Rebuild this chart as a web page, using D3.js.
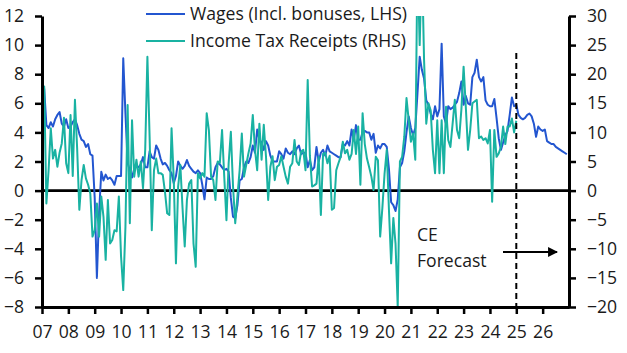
<!DOCTYPE html>
<html>
<head>
<meta charset="utf-8">
<script src="https://cdn.jsdelivr.net/npm/d3@7"></script>
<style>
  body { margin: 0; background: #fff; }
  text { font-family: "Open Sans", sans-serif; fill: #1a1a1a; }
</style>
</head>
<body>
<div id="chart"></div>
<script>
// monthly, Jan 2007 onwards (LHS, % y/y)
const startYear = 2007;
const wages = [
  5.7, 7.0, 4.5, 4.3, 4.7, 4.4, 4.9, 5.2, 5.4, 4.6, 4.4, 4.9,
  4.3, 4.4, 4.7, 4.9, 4.5, 3.9, 3.5, 3.4, 3.0, 3.2, 2.5, 2.4,
  -0.5, -6.0, -1.5, 1.3, 0.7, 1.1, 0.8, 0.9, 0.7, 0.4, 1.0, 1.0,
  1.0, 9.1, 5.3, 1.9, 1.4, 0.9, 1.5, 1.7, 1.6, 1.8, 2.3, 1.6,
  1.6, 2.7, 2.3, 2.2, 3.1, 2.8, 2.2, 1.8, 1.9, 1.7, 1.4, 1.2,
  0.5, 1.0, 2.0, 1.7, 1.5, 1.7, 2.1, 1.7, 1.5, 1.3, 1.2, 1.4,
  1.2, 0.4, -0.6, 0.9, 0.8, 0.8, 1.0, 1.6, 1.9, 1.8, 1.6, 1.4,
  1.5, 1.3, -0.5, -1.8, -1.9, -1.0, 0.7, 0.8, 1.6, 2.0, 1.9, 2.3,
  3.1, 2.6, 4.2, 3.5, 3.3, 2.8, 3.4, 3.1, 2.4, 2.0, 2.0, 2.0,
  2.7, 2.5, 2.2, 2.9, 2.6, 2.5, 2.7, 2.5, 2.9, 3.1, 2.5, 2.6,
  2.6, 1.6, 2.1, 1.4, 1.6, 3.0, 2.0, 2.6, 2.8, 2.4, 3.1, 2.7,
  2.6, 2.5, 2.4, 2.3, 2.3, 3.2, 3.1, 3.4, 3.1, 4.2, 3.5, 4.5,
  3.5, 3.5, 4.0, 4.1, 4.0, 4.0, 3.5, 3.9, 2.6, 3.1, 2.9, 3.2,
  3.2, 3.0, 1.5, -0.8, -1.0, -1.4, -0.6, 1.6, 1.9, 2.7, 4.0, 5.1,
  4.3, 3.8, 4.3, 6.7, 9.2, 8.3, 7.7, 6.2, 5.9, 5.3, 4.9, 5.8,
  5.1, 5.6, 10.1, 5.1, 4.6, 5.8, 5.6, 5.7, 5.9, 6.1, 6.7, 7.5,
  5.9, 6.5, 6.0, 5.9, 7.8, 8.1, 9.0, 7.8, 7.5, 7.8, 6.2, 5.9,
  5.8, 5.8, 6.3, 5.0, 3.6, 2.8, 3.3, 3.8, 4.1, 5.2, 6.4, 5.8,
  5.9, 5.2, 5.0, 4.9, 5.0, 5.2, 5.3, 5.1, 4.6, 3.7, 4.4, 4.2,
  4.1, 4.2, 3.4, 3.3, 3.2, 3.2, 3.0, 2.9, 2.8, 2.7, 2.6, 2.5
];
// monthly, Jan 2007 onwards (RHS, % y/y)
const taxReceipts = [
  11.0, 17.9, -2.2, 3.5, 10.7, 5.5, 7.0, 4.1, 6.5, 8.1, 12.5, 4.7,
  3.0, 13.0, 2.5, 15.6, 7.3, -3.3, 1.8, 4.4, 2.1, 1.0, -0.5, -7.9,
  -6.8, -2.2, -7.9, -1.0, -4.5, -11.9, -1.6, -9.1, -8.5, -6.8, -7.0, -1.0,
  -11.3, -17.1, -6.2, 14.7, -5.6, 12.1, 2.4, 5.3, 2.4, 5.0, 0.4, 7.0,
  23.0, 9.3, -6.8, 3.5, 5.5, 3.0, 3.0, 2.7, -0.2, -3.9, -4.2, 10.7,
  2.0, -12.5, 0.7, 4.4, -3.0, -9.6, -1.6, 1.2, 1.8, -9.1, -13.1, 3.0,
  2.1, 3.0, 2.4, 13.3, 10.4, 2.4, 1.8, -1.6, 5.0, 4.8, 10.4, 2.4,
  -5.1, 4.7, 10.1, 0.7, -5.6, -1.0, 3.5, 9.8, 2.4, 4.4, 6.4, 8.1,
  13.0, 7.0, 3.5, 11.5, 5.3, 11.3, 5.9, -1.6, 4.1, 5.9, 1.8, 4.1,
  4.4, 5.9, 4.1, 2.4, 1.2, 4.1, 4.7, 8.7, 5.0, 4.4, 6.7, 7.0,
  3.5, 19.0, 6.0, 0.7, 0.9, 1.2, 5.8, -4.2, 6.3, 6.5, 4.7, 6.0,
  -3.3, -3.0, 3.5, 4.7, 5.8, 8.4, 6.4, 7.0, 5.3, 6.3, 10.4, 6.3,
  11.0, 1.0, 13.3, 8.0, 5.5, 4.0, 2.4, 0.1, 5.8, 5.2, -7.9, -3.0,
  2.9, 7.0, -3.3, -12.5, -4.7, -9.1, -20.0, 5.0, 5.8, 9.3, 15.9, 12.1,
  8.4, 9.8, 5.3, 40.0, 25.0, 40.0, 22.4, 11.5, 15.0, 13.8, 7.0, 3.0,
  12.1, 3.0, 12.1, 3.0, 14.4, 8.7, 7.5, 11.5, 15.6, 10.4, 9.0, 14.0,
  21.3, 14.4, 7.0, 10.4, 15.0, 15.3, 15.6, 9.0, 9.3, 8.7, 9.0, 8.1,
  10.4, -1.9, 10.4, 5.8, 6.4, 7.5, 11.0, 8.0, 11.0, 11.0, 12.4, 10.0,
  12.0
];
const yearTicks = d3.range(2007, 2027);
const leftTicks = [-8, -6, -4, -2, 0, 2, 4, 6, 8, 10, 12];
const rightTicks = [-20, -15, -10, -5, 0, 5, 10, 15, 20, 25, 30];
const seriesNames = ["Wages (Incl. bonuses, LHS)", "Income Tax Receipts (RHS)"];
const seriesColors = ["#2356d0", "#19b2a2"];
const forecastStart = 2025;

const width = 627;
const height = 353;
const margin = {t: 16, b: 46, l: 42, r: 58};
const fontSize = "17.6px";

const svg = d3.select("#chart")
    .append("svg")
    .attr("width", width)
    .attr("height", height)
    .attr("viewBox", [0, 0, width, height]);

const xScale = d3.scaleLinear()
    .domain([2007, 2027])
    .range([margin.l, width - margin.r]);
const yLeft = d3.scaleLinear()
    .domain([-8, 12])
    .range([height - margin.b, margin.t]);
const yRight = d3.scaleLinear()
    .domain([-20, 30])
    .range([height - margin.b, margin.t]);

svg.append("clipPath")
    .attr("id", "plotClip")
    .append("rect")
    .attr("x", margin.l)
    .attr("y", margin.t)
    .attr("width", width - margin.l - margin.r)
    .attr("height", height - margin.t - margin.b);

//zero line
svg.append("line")
    .attr("x1", margin.l)
    .attr("x2", width - margin.r)
    .attr("y1", yLeft(0))
    .attr("y2", yLeft(0))
    .attr("stroke", "#000")
    .attr("stroke-width", 2.6);

//lines
const wageLine = d3.line()
    .x((d, i) => xScale(startYear + i / 12))
    .y(d => yLeft(d));
const taxLine = d3.line()
    .x((d, i) => xScale(startYear + i / 12))
    .y(d => yRight(d));

const plot = svg.append("g").attr("clip-path", "url(#plotClip)");
plot.append("path")
    .datum(wages)
    .attr("fill", "none")
    .attr("stroke", seriesColors[0])
    .attr("stroke-width", 2)
    .attr("stroke-linejoin", "round")
    .attr("d", wageLine);
plot.append("path")
    .datum(taxReceipts)
    .attr("fill", "none")
    .attr("stroke", seriesColors[1])
    .attr("stroke-width", 2)
    .attr("stroke-linejoin", "round")
    .attr("d", taxLine);

//forecast marker
svg.append("line")
    .attr("x1", xScale(forecastStart))
    .attr("x2", xScale(forecastStart))
    .attr("y1", 53)
    .attr("y2", height - margin.b)
    .attr("stroke", "#000")
    .attr("stroke-width", 2)
    .attr("stroke-dasharray", "6,4");

svg.append("defs").append("marker")
    .attr("id", "arrow")
    .attr("viewBox", "0 0 10 10")
    .attr("refX", 9)
    .attr("refY", 5)
    .attr("markerWidth", 5.5)
    .attr("markerHeight", 5.5)
    .attr("orient", "auto")
    .append("path")
    .attr("d", "M0,0L10,5L0,10Z")
    .attr("fill", "#000");
svg.append("line")
    .attr("x1", 503)
    .attr("x2", 557)
    .attr("y1", 252)
    .attr("y2", 252)
    .attr("stroke", "#000")
    .attr("stroke-width", 1.8)
    .attr("marker-end", "url(#arrow)");
svg.append("text").attr("x", 417).attr("y", 241).attr("font-size", fontSize).text("CE");
svg.append("text").attr("x", 417).attr("y", 267).attr("font-size", fontSize).text("Forecast");

//axes
const xAxis = d3.axisBottom(xScale)
    .tickValues(yearTicks)
    .tickFormat(d => String(d).slice(2))
    .tickSize(7)
    .tickSizeOuter(0)
    .tickPadding(12);
const gx = svg.append("g")
    .attr("transform", `translate(0, ${height - margin.b})`)
    .call(xAxis);

const gl = svg.append("g")
    .attr("transform", `translate(${margin.l}, 0)`)
    .call(d3.axisLeft(yLeft).tickValues(leftTicks).tickSize(7).tickSizeOuter(0).tickPadding(11));

const gr = svg.append("g")
    .attr("transform", `translate(${width - margin.r}, 0)`)
    .call(d3.axisRight(yRight).tickValues(rightTicks).tickSize(7).tickSizeOuter(0).tickPadding(11));

[gx, gl, gr].forEach(g => {
    g.select(".domain").attr("stroke", "#000").attr("stroke-width", 3);
    g.selectAll(".tick line").attr("stroke", "#000").attr("stroke-width", 2.5);
    g.selectAll(".tick text")
        .attr("font-family", "'Open Sans', sans-serif")
        .attr("font-size", fontSize)
        .attr("fill", "#1a1a1a");
});

//legend
const legend = svg.append("g");
seriesNames.forEach((name, i) => {
    const y = 14 + i * 27;
    legend.append("line")
        .attr("x1", 146).attr("x2", 185)
        .attr("y1", y).attr("y2", y)
        .attr("stroke", seriesColors[i])
        .attr("stroke-width", 2);
    legend.append("text")
        .attr("x", 190)
        .attr("y", y)
        .attr("dy", "0.36em")
        .attr("font-size", fontSize)
        .text(name);
});
</script>
</body>
</html>
